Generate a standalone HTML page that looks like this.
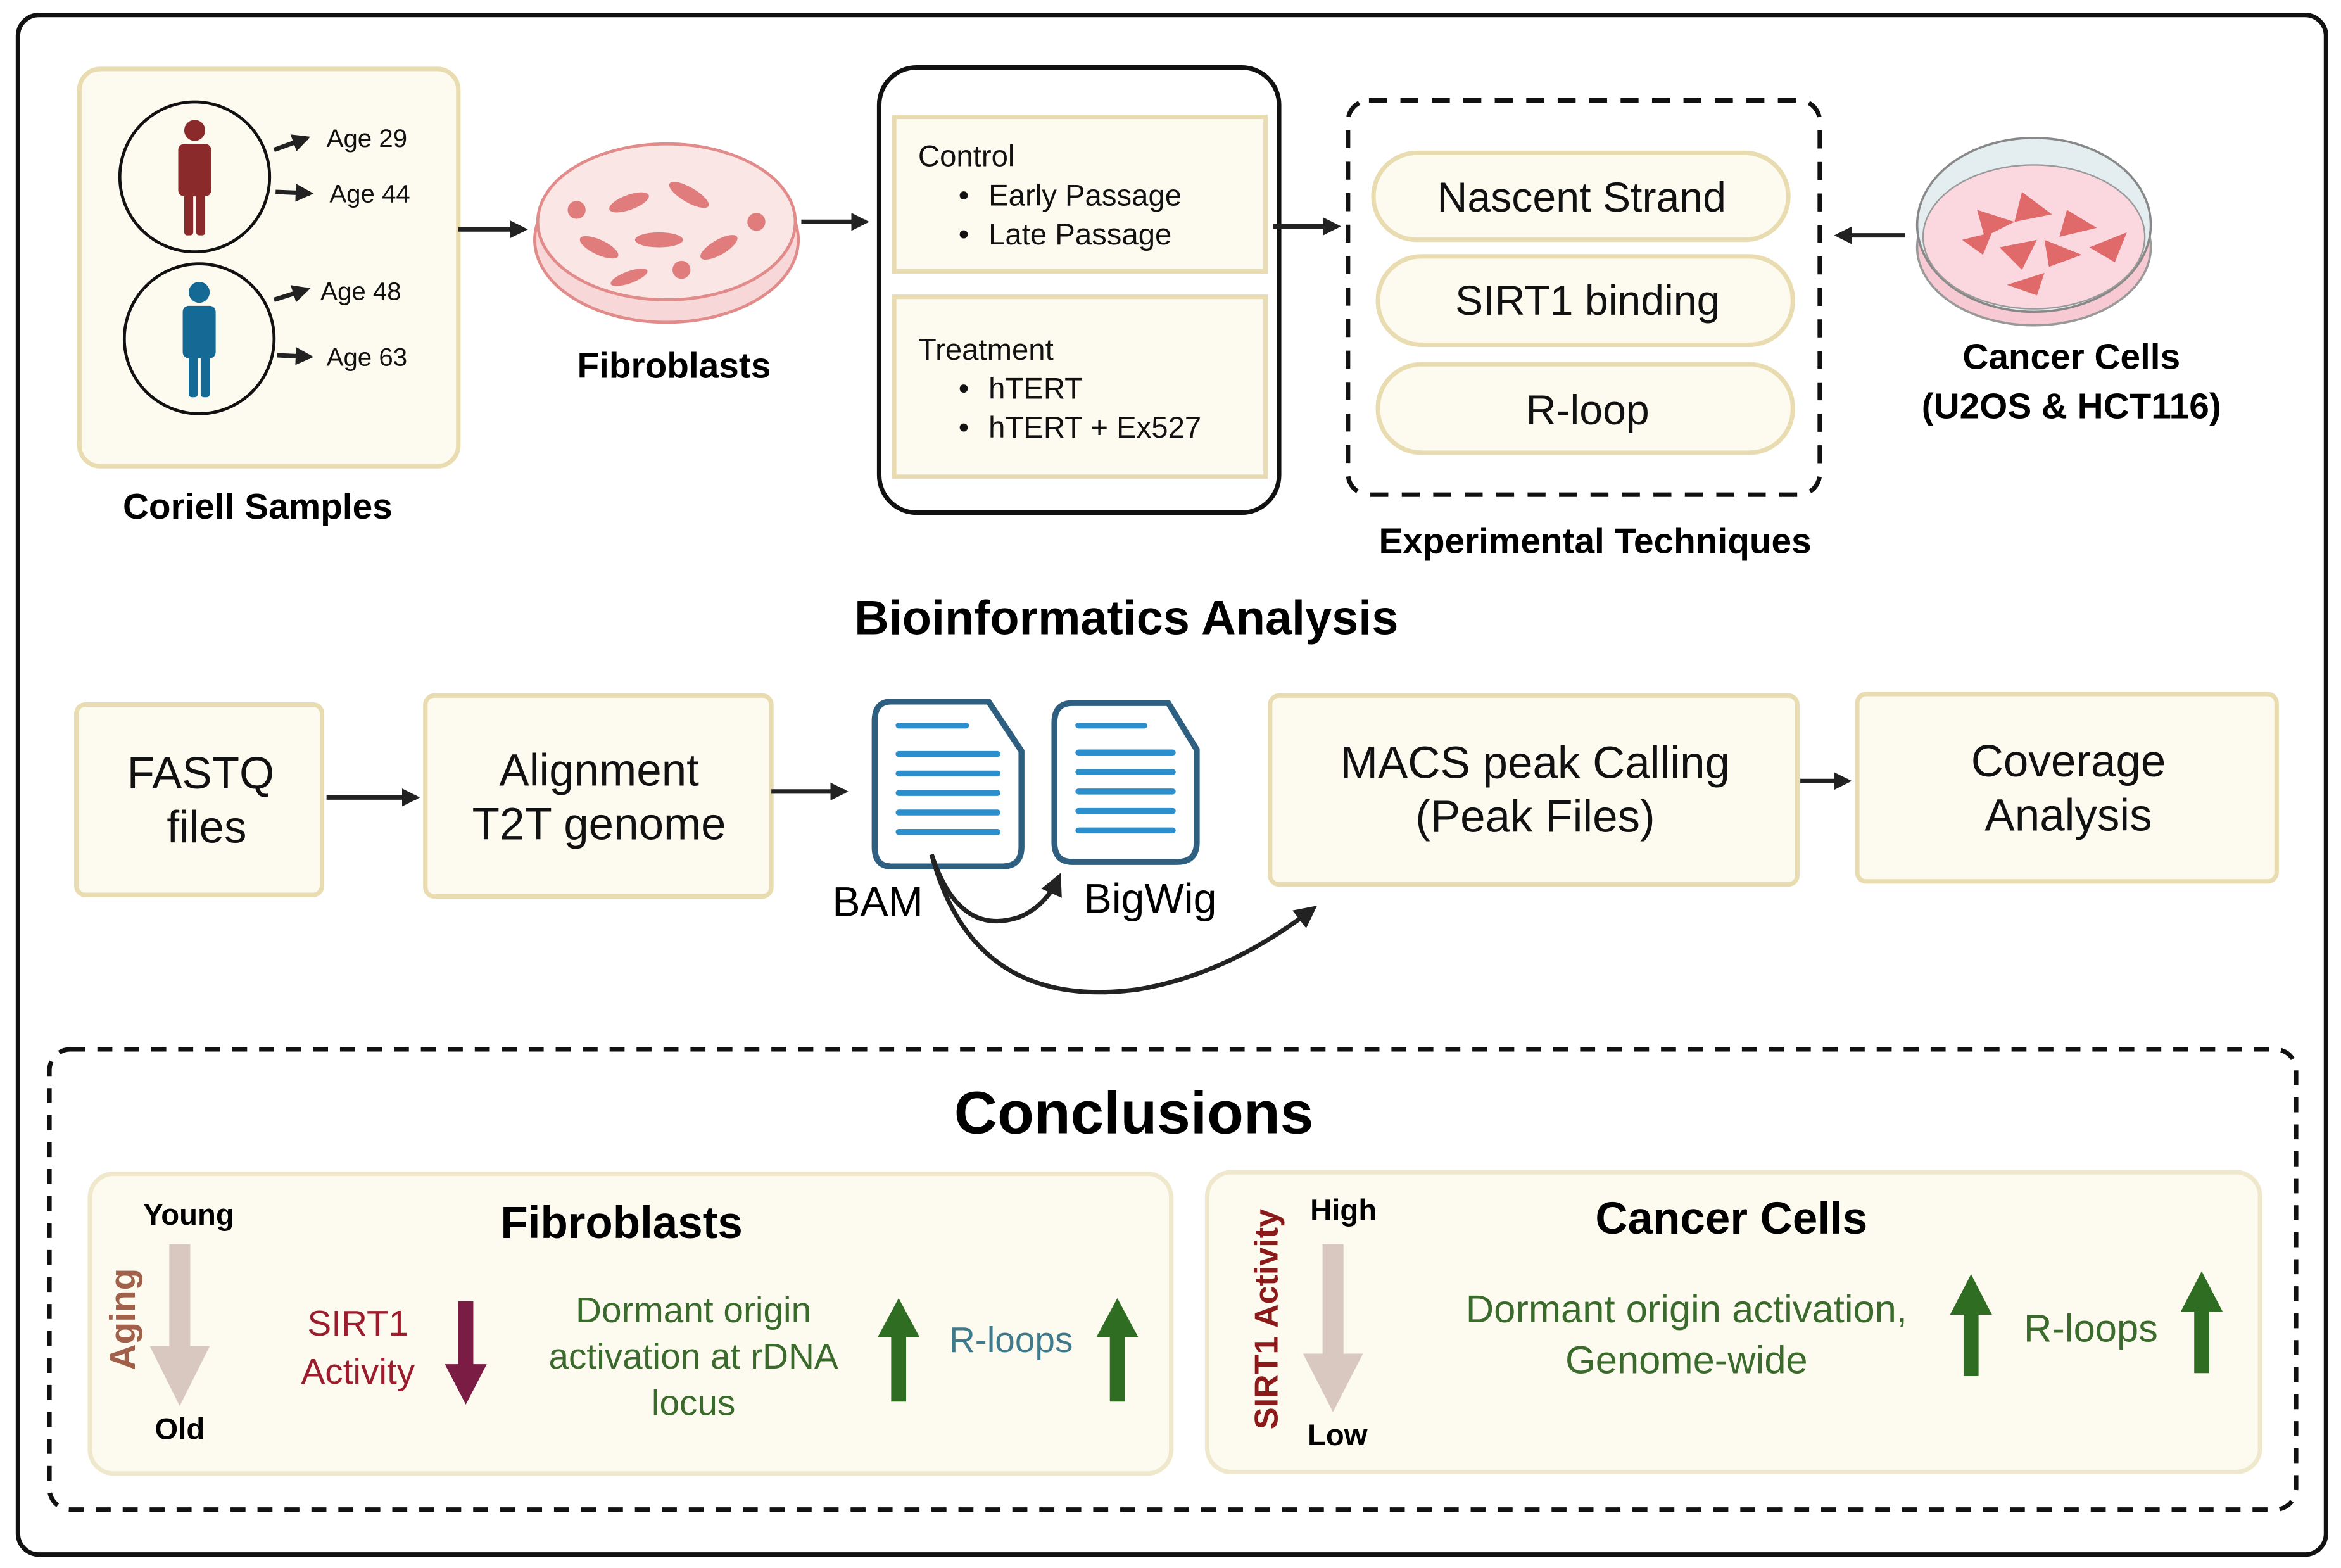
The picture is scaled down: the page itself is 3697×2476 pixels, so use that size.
<!DOCTYPE html>
<html><head><meta charset="utf-8"><style>
html,body{margin:0;padding:0;background:#fff;}
svg{display:block;}
text{font-family:"Liberation Sans",sans-serif;}
.b{font-weight:bold;}
</style></head><body>
<svg width="3697" height="2476" viewBox="0 0 1563 1046" preserveAspectRatio="none" xmlns="http://www.w3.org/2000/svg">
<defs>
<marker id="ah" viewBox="0 0 10 10" refX="8" refY="5" markerWidth="4" markerHeight="4" orient="auto-start-reverse"><path d="M0,0 L10,5 L0,10 z" fill="#222"/></marker>
<marker id="ahs" viewBox="0 0 10 10" refX="8" refY="5" markerWidth="5" markerHeight="5" orient="auto"><path d="M0,0 L10,5 L0,10 z" fill="#222"/></marker>
</defs>
<rect x="12" y="10" width="1541" height="1027" rx="14" fill="#fff" stroke="#111" stroke-width="3"/>

<!-- Coriell -->
<rect x="53" y="46" width="253" height="265" rx="14" fill="#fdfbef" stroke="#e8dcb0" stroke-width="3"/>
<circle cx="130" cy="118" r="50" fill="none" stroke="#111" stroke-width="2"/>
<circle cx="133" cy="226" r="50" fill="none" stroke="#111" stroke-width="2"/>
<g fill="#8b2a2a"><circle cx="130" cy="87" r="7"/><rect x="119" y="96" width="22" height="35" rx="4"/><rect x="123" y="125" width="6" height="32" rx="2"/><rect x="131" y="125" width="6" height="32" rx="2"/></g>
<g fill="#156a95"><circle cx="133" cy="195" r="7"/><rect x="122" y="204" width="22" height="35" rx="4"/><rect x="126" y="233" width="6" height="32" rx="2"/><rect x="134" y="233" width="6" height="32" rx="2"/></g>
<g stroke="#222" stroke-width="3" fill="none" marker-end="url(#ah)">
<line x1="183" y1="100" x2="205" y2="92"/><line x1="184" y1="128" x2="207" y2="129"/>
<line x1="183" y1="200" x2="205" y2="193"/><line x1="185" y1="237" x2="207" y2="238"/>
</g>
<g font-size="17" fill="#111"><text x="218" y="98">Age 29</text><text x="220" y="135">Age 44</text><text x="214" y="200">Age 48</text><text x="218" y="244">Age 63</text></g>
<text x="172" y="346" font-size="24" class="b" text-anchor="middle">Coriell Samples</text>

<line x1="306" y1="153" x2="350" y2="153" stroke="#222" stroke-width="3" marker-end="url(#ah)"/>
<!-- fibroblast dish -->
<ellipse cx="445" cy="160" rx="88" ry="55" fill="#f7d7d7" stroke="#e28b8b" stroke-width="2"/>
<ellipse cx="445" cy="148" rx="86" ry="52" fill="#fbe6e6" stroke="#e28b8b" stroke-width="2"/>
<g fill="#e07c7c"><ellipse cx="420" cy="135" rx="14" ry="5" transform="rotate(-20 420 135)"/><ellipse cx="460" cy="130" rx="15" ry="5" transform="rotate(30 460 130)"/><ellipse cx="440" cy="160" rx="16" ry="5"/><ellipse cx="480" cy="165" rx="14" ry="5" transform="rotate(-30 480 165)"/><ellipse cx="400" cy="165" rx="14" ry="5" transform="rotate(25 400 165)"/><circle cx="505" cy="148" r="6"/><circle cx="385" cy="140" r="6"/><circle cx="455" cy="180" r="6"/><ellipse cx="420" cy="185" rx="13" ry="4" transform="rotate(-20 420 185)"/></g>
<text x="450" y="252" font-size="24" class="b" text-anchor="middle">Fibroblasts</text>

<line x1="535" y1="148" x2="578" y2="148" stroke="#222" stroke-width="3" marker-end="url(#ah)"/>
<rect x="587" y="45" width="267" height="297" rx="25" fill="#fff" stroke="#111" stroke-width="3"/>
<rect x="597" y="78" width="248" height="103" fill="#fdfbef" stroke="#e8dcb0" stroke-width="3"/>
<rect x="597" y="198" width="248" height="120" fill="#fdfbef" stroke="#e8dcb0" stroke-width="3"/>
<g font-size="20" fill="#111">
<text x="613" y="111">Control</text>
<text x="640" y="137">•</text><text x="660" y="137">Early Passage</text>
<text x="640" y="163">•</text><text x="660" y="163">Late Passage</text>
<text x="613" y="240">Treatment</text>
<text x="640" y="266">•</text><text x="660" y="266">hTERT</text>
<text x="640" y="292">•</text><text x="660" y="292">hTERT + Ex527</text>
</g>

<line x1="850" y1="151" x2="893" y2="151" stroke="#222" stroke-width="3" marker-end="url(#ah)"/>
<rect x="900" y="67" width="315" height="263" rx="14" fill="none" stroke="#111" stroke-width="3" stroke-dasharray="12,9"/>
<rect x="917" y="102" width="277" height="58" rx="29" fill="#fdfbef" stroke="#e8dcb0" stroke-width="3"/>
<rect x="920" y="171" width="277" height="59" rx="29" fill="#fdfbef" stroke="#e8dcb0" stroke-width="3"/>
<rect x="920" y="243" width="277" height="59" rx="29" fill="#fdfbef" stroke="#e8dcb0" stroke-width="3"/>
<g font-size="28" fill="#111" text-anchor="middle"><text x="1056" y="141">Nascent Strand</text><text x="1060" y="210">SIRT1 binding</text><text x="1060" y="283">R-loop</text></g>
<text x="1065" y="369" font-size="24" class="b" text-anchor="middle">Experimental Techniques</text>

<line x1="1272" y1="157" x2="1227" y2="157" stroke="#222" stroke-width="3" marker-end="url(#ah)"/>
<ellipse cx="1358" cy="165" rx="78" ry="52" fill="#f6c9d3" stroke="#999" stroke-width="1.5"/>
<ellipse cx="1358" cy="150" rx="78" ry="58" fill="#e4eef0" stroke="#888" stroke-width="1.5"/>
<ellipse cx="1358" cy="158" rx="74" ry="48" fill="#fbd8e0" stroke="#999" stroke-width="1"/>
<g fill="#e06a6a"><path d="M1320,140 l25,8 l-20,10z"/><path d="M1350,128 l20,15 l-25,5z"/><path d="M1380,140 l20,12 l-25,6z"/><path d="M1335,165 l25,-5 l-10,20z"/><path d="M1365,160 l25,10 l-22,8z"/><path d="M1395,165 l25,-10 l-8,20z"/><path d="M1340,190 l25,-8 l-5,15z"/><path d="M1310,160 l20,-5 l-6,15z"/></g>
<text x="1383" y="246" font-size="24" class="b" text-anchor="middle">Cancer Cells</text>
<text x="1383" y="279" font-size="24" class="b" text-anchor="middle">(U2OS &amp; HCT116)</text>

<text x="752" y="423" font-size="32" class="b" text-anchor="middle">Bioinformatics Analysis</text>

<g fill="#fdfbef" stroke="#e8dcb0" stroke-width="3">
<rect x="51" y="470" width="164" height="127" rx="6"/>
<rect x="284" y="464" width="231" height="134" rx="6"/>
<rect x="848" y="464" width="352" height="126" rx="6"/>
<rect x="1240" y="463" width="280" height="125" rx="6"/>
</g>
<g font-size="30" fill="#111" text-anchor="middle">
<text x="134" y="526">FASTQ</text><text x="138" y="562">files</text>
<text x="400" y="524">Alignment</text><text x="400" y="560">T2T genome</text>
<text x="1025" y="519">MACS peak Calling</text><text x="1025" y="555">(Peak Files)</text>
<text x="1381" y="518">Coverage</text><text x="1381" y="554">Analysis</text>
</g>
<line x1="218" y1="532" x2="278" y2="532" stroke="#222" stroke-width="3" marker-end="url(#ah)"/>
<line x1="515" y1="528" x2="564" y2="528" stroke="#222" stroke-width="3" marker-end="url(#ah)"/>
<line x1="1202" y1="521" x2="1234" y2="521" stroke="#222" stroke-width="3" marker-end="url(#ah)"/>

<!-- docs -->
<g fill="#fff" stroke="#2f5f80" stroke-width="4">
<path d="M595,468 L660,468 L682,501 L682,565 Q682,578 669,578 L595,578 Q584,578 584,565 L584,481 Q584,468 595,468 z"/>
<path d="M716,469 L780,469 L799,500 L799,562 Q799,575 786,575 L716,575 Q704,575 704,562 L704,482 Q704,469 716,469 z"/>
</g>
<g stroke="#2b8fce" stroke-width="4" stroke-linecap="round">
<line x1="600" y1="484" x2="645" y2="484"/><line x1="600" y1="503" x2="666" y2="503"/><line x1="600" y1="516" x2="666" y2="516"/><line x1="600" y1="529" x2="666" y2="529"/><line x1="600" y1="542" x2="666" y2="542"/><line x1="600" y1="555" x2="666" y2="555"/>
<line x1="720" y1="484" x2="764" y2="484"/><line x1="720" y1="502" x2="783" y2="502"/><line x1="720" y1="515" x2="783" y2="515"/><line x1="720" y1="528" x2="783" y2="528"/><line x1="720" y1="541" x2="783" y2="541"/><line x1="720" y1="554" x2="783" y2="554"/>
</g>
<text x="586" y="611" font-size="28" text-anchor="middle">BAM</text>
<text x="768" y="609" font-size="28" text-anchor="middle">BigWig</text>
<path d="M622,570 Q640,625 680,612 Q698,605 707,585" fill="none" stroke="#222" stroke-width="3" marker-end="url(#ahs)"/>
<path d="M622,570 Q650,675 760,660 Q820,650 877,606" fill="none" stroke="#222" stroke-width="3" marker-end="url(#ahs)"/>

<!-- Conclusions -->
<rect x="33" y="700" width="1500" height="307" rx="14" fill="none" stroke="#111" stroke-width="3" stroke-dasharray="10,8"/>
<text x="757" y="756" font-size="40" class="b" text-anchor="middle">Conclusions</text>
<rect x="60" y="783" width="722" height="200" rx="16" fill="#fdfbef" stroke="#f0e8cc" stroke-width="3"/>
<rect x="806" y="782" width="703" height="200" rx="16" fill="#fdfbef" stroke="#f0e8cc" stroke-width="3"/>

<text x="126" y="817" font-size="20" class="b" text-anchor="middle">Young</text>
<text x="120" y="960" font-size="20" class="b" text-anchor="middle">Old</text>
<rect x="113" y="830" width="14" height="70" fill="#d9c8c0"/><path d="M100,898 L140,898 L120,938 z" fill="#d9c8c0"/>
<text transform="translate(90,880) rotate(-90)" font-size="24" class="b" fill="#a0604a" text-anchor="middle">Aging</text>
<text x="415" y="826" font-size="30" class="b" text-anchor="middle">Fibroblasts</text>
<text x="239" y="891" font-size="24" fill="#9b1c2c" text-anchor="middle">SIRT1</text>
<text x="239" y="923" font-size="24" fill="#9b1c2c" text-anchor="middle">Activity</text>
<rect x="306" y="868" width="10" height="45" fill="#7b1c45"/><path d="M297,910 L325,910 L311,937 z" fill="#7b1c45"/>
<g font-size="24" fill="#3a6b2d" text-anchor="middle"><text x="463" y="882">Dormant origin</text><text x="463" y="913">activation at rDNA</text><text x="463" y="944">locus</text></g>
<rect x="595" y="890" width="10" height="45" fill="#2f6e22"/><path d="M586,892 L614,892 L600,866 z" fill="#2f6e22"/>
<text x="675" y="902" font-size="24" fill="#3f7a8c" text-anchor="middle">R-loops</text>
<rect x="741" y="890" width="10" height="45" fill="#2f6e22"/><path d="M732,892 L760,892 L746,866 z" fill="#2f6e22"/>

<text transform="translate(853,880) rotate(-90)" font-size="22" class="b" fill="#8b1a1a" text-anchor="middle">SIRT1 Activity</text>
<text x="897" y="814" font-size="20" class="b" text-anchor="middle">High</text>
<text x="893" y="964" font-size="20" class="b" text-anchor="middle">Low</text>
<rect x="883" y="830" width="14" height="75" fill="#d9c8c0"/><path d="M870,903 L910,903 L890,942 z" fill="#d9c8c0"/>
<text x="1156" y="823" font-size="30" class="b" text-anchor="middle">Cancer Cells</text>
<g font-size="26" fill="#3a6b2d" text-anchor="middle"><text x="1126" y="882">Dormant origin activation,</text><text x="1126" y="916">Genome-wide</text></g>
<rect x="1311" y="875" width="10" height="43" fill="#2f6e22"/><path d="M1302,877 L1330,877 L1316,850 z" fill="#2f6e22"/>
<text x="1396" y="895" font-size="26" fill="#3a6b2d" text-anchor="middle">R-loops</text>
<rect x="1465" y="873" width="10" height="43" fill="#2f6e22"/><path d="M1456,875 L1484,875 L1470,848 z" fill="#2f6e22"/>
</svg>
</body></html>
